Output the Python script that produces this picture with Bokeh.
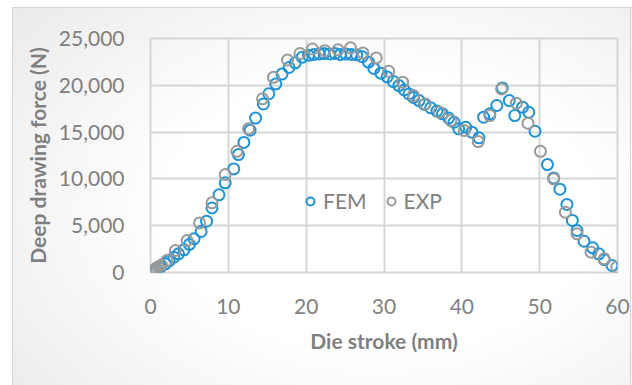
from bokeh.plotting import figure
from bokeh.models import FixedTicker, NumeralTickFormatter, Legend, LegendItem
from bokeh.embed import file_html
from bokeh.resources import INLINE

# FEM simulation (blue)
fem_x = [0.0, 0.2, 0.4, 0.8, 1.3, 1.9, 2.4, 3.0, 3.6, 4.3, 5.0, 5.6, 6.5, 7.2, 7.9,
         8.8, 9.6, 10.7, 11.3, 12.0, 12.8, 13.5, 14.5, 15.2, 16.1, 16.9, 17.8, 18.6,
         19.5, 20.3, 21.0, 21.7, 22.3, 23.0, 23.7, 24.4, 25.1, 25.8, 26.5, 27.2, 28.0,
         28.7, 29.6, 30.4, 31.2, 31.9, 32.6, 33.2, 33.8, 34.5, 35.2, 36.0, 36.8, 37.5,
         38.3, 39.0, 39.6, 40.5, 41.3, 42.2, 42.8, 43.6, 44.5, 45.2, 46.1, 46.8, 47.8,
         48.6, 49.4, 51.0, 51.8, 52.6, 53.5, 54.2, 54.8, 55.7, 56.8, 57.6, 58.3, 59.3]
fem_y = [0, 50, 140, 350, 600, 930, 1250, 1630, 2000, 2420, 3000, 3600, 4380, 5480, 6900,
         8300, 9580, 11070, 12600, 13900, 15200, 16500, 18000, 19100, 20150, 21200, 21900, 22400,
         23000, 23200, 23300, 23350, 23400, 23350, 23400, 23300, 23350, 23300, 23250, 23050, 22470,
         21800, 21300, 20900, 20400, 19970, 19500, 19080, 18700, 18370, 17950, 17590, 17250, 16950,
         16500, 16050, 15350, 15520, 14990, 14390, 16590, 16950, 17840, 19720, 18370, 16770, 17660,
         17120, 15090, 11530, 10100, 8900, 7270, 5560, 4490, 3340, 2640, 2000, 1360, 750]

# Experiment (gray)
exp_x = [0.0, 0.1, 0.3, 0.5, 0.7, 1.0, 1.4, 2.1, 3.2, 4.7, 6.3, 7.9, 9.6, 11.1, 12.6,
         14.4, 15.8, 17.6, 19.2, 20.8, 22.4, 24.1, 25.7, 27.3, 29.0, 30.6, 32.4, 33.8,
         35.3, 37.1, 38.6, 40.3, 42.1, 43.6, 45.1, 47.0, 48.5, 50.1, 51.8, 53.3, 54.8,
         56.6, 58.3, 59.9]
exp_y = [0, 80, 200, 300, 450, 600, 800, 1280, 2350, 3420, 5300, 7440, 10470, 12950, 15350,
         18550, 20850, 22700, 23400, 23880, 23700, 23800, 24000, 23460, 22930, 21500, 20330, 18900,
         18010, 17120, 16230, 15170, 13990, 16770, 19610, 18090, 15950, 12950, 10000, 6440, 4130,
         2170, 1460, 570]

x_ticks = [0, 10, 20, 30, 40, 50, 60]
y_ticks = [0, 5000, 10000, 15000, 20000, 25000]

FONT = "Lato"
BLUE = "#1f93d6"
GRAY = "#9a9a9a"
TXT = "#808080"

p = figure(width=632, height=385, output_backend="svg", toolbar_location=None,
           x_range=(0, 60), y_range=(0, 25000),
           min_border_left=150, min_border_right=15, min_border_top=38, min_border_bottom=113)

line = "#d4d4d4"
p.styles = {"background":
            f"linear-gradient({line},{line}) 12px 7px/1px 100% no-repeat, "
            f"linear-gradient({line},{line}) 12px 7px/100% 1px no-repeat, "
            f"linear-gradient({line},{line}) 630px 7px/1px 100% no-repeat, "
            "linear-gradient(#fff,#fff) 0 0/12px 100% no-repeat, "
            "linear-gradient(#fff,#fff) 0 0/100% 7px no-repeat, "
            "radial-gradient(ellipse 75% 80% at 60% 55%, #ffffff 45%, #ebebeb 100%)"}
p.border_fill_alpha = 0
p.background_fill_alpha = 0
p.outline_line_color = "#d6d6d6"
p.outline_line_width = 2

for ax in (p.xaxis[0], p.yaxis[0]):
    ax.axis_line_color = None
    ax.major_tick_line_color = None
    ax.minor_tick_line_color = None
    ax.major_label_text_font = FONT
    ax.major_label_text_font_size = "21px"
    ax.major_label_text_color = TXT
    ax.axis_label_text_font = FONT
    ax.axis_label_text_font_size = "21px"
    ax.axis_label_text_font_style = "bold"
    ax.axis_label_text_color = TXT
    ax.major_label_standoff = 20

p.xaxis.ticker = FixedTicker(ticks=x_ticks)
p.yaxis.ticker = FixedTicker(ticks=y_ticks)
p.yaxis.formatter = NumeralTickFormatter(format="0,0")
p.xaxis.axis_label = "Die stroke (mm)"
p.yaxis.axis_label = "Deep drawing force (N)"
p.xaxis.axis_label_standoff = 11
p.yaxis.axis_label_standoff = 6

p.grid.grid_line_color = "#d6d6d6"
p.grid.grid_line_width = 2

r_fem = p.scatter(fem_x, fem_y, size=11, marker="circle", fill_alpha=0,
                  line_color=BLUE, line_width=2)
r_exp = p.scatter(exp_x, exp_y, size=11, marker="circle", fill_alpha=0,
                  line_color=GRAY, line_width=2)

legend = Legend(items=[LegendItem(label="FEM", renderers=[r_fem]),
                       LegendItem(label="EXP", renderers=[r_exp])],
                location=(150, 59), orientation="horizontal",
                background_fill_alpha=0, border_line_color=None,
                padding=0, margin=0, spacing=14, glyph_width=20, glyph_height=20,
                label_standoff=3, label_text_font=FONT, label_text_font_size="21px",
                label_text_color=TXT)
p.add_layout(legend)

open("out.html", "w").write(file_html(p, INLINE))
